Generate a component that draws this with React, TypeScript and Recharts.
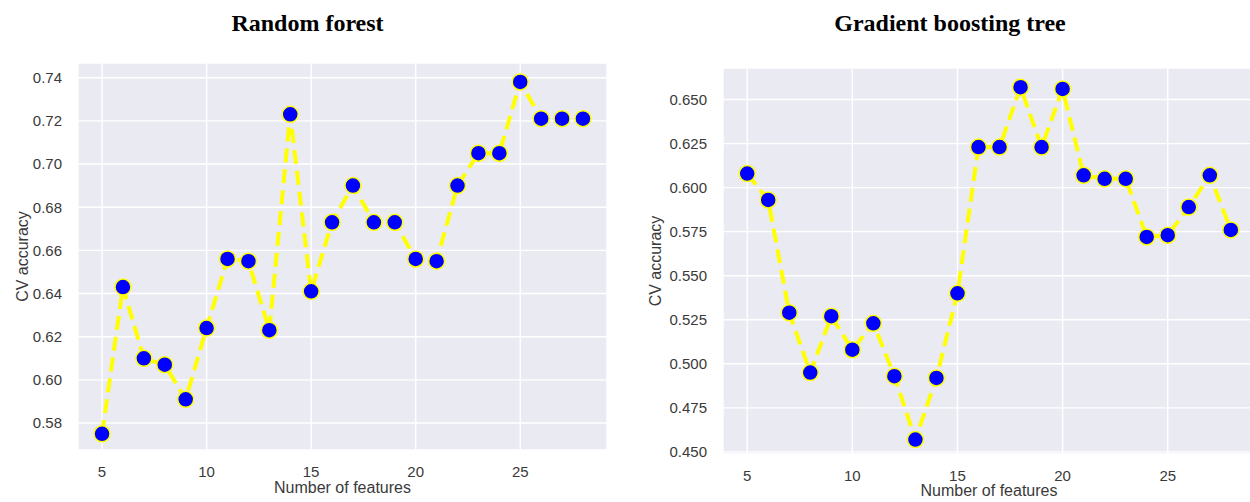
import { CartesianGrid, Line, LineChart, XAxis, YAxis, Label } from "recharts";

const features = [5, 6, 7, 8, 9, 10, 11, 12, 13, 14, 15, 16, 17, 18, 19, 20, 21, 22, 23, 24, 25, 26, 27, 28];

const rfAccuracy = [
  0.575, 0.643, 0.61, 0.607, 0.591, 0.624, 0.656, 0.655, 0.623, 0.723, 0.641, 0.673,
  0.69, 0.673, 0.673, 0.656, 0.655, 0.69, 0.705, 0.705, 0.738, 0.721, 0.721, 0.721,
];

const gbtAccuracy = [
  0.608, 0.593, 0.529, 0.495, 0.527, 0.508, 0.523, 0.493, 0.457, 0.492, 0.54, 0.623,
  0.623, 0.657, 0.623, 0.656, 0.607, 0.605, 0.605, 0.572, 0.573, 0.589, 0.607, 0.576,
];

const xTicks = [5, 10, 15, 20, 25];
const rfTicks = [0.58, 0.6, 0.62, 0.64, 0.66, 0.68, 0.7, 0.72, 0.74];
const gbtTicks = [0.45, 0.475, 0.5, 0.525, 0.55, 0.575, 0.6, 0.625, 0.65];

const SANS = "'Liberation Sans', Arial, sans-serif";
const SERIF = "'Liberation Serif', 'Times New Roman', serif";
const TEXT = "#3a3a3a";

const rfData = features.map((n, i) => ({ n, acc: rfAccuracy[i] }));
const gbtData = features.map((n, i) => ({ n, acc: gbtAccuracy[i] }));

type PanelProps = {
  data: { n: number; acc: number }[];
  yDomain: [number, number];
  yTicks: number[];
  digits: number;
  width: number;
  margin: { top: number; right: number; bottom: number; left: number };
  yAxisWidth: number;
  xLabelOffset: number;
  yLabelOffset: number;
};

const Panel = ({ data, yDomain, yTicks, digits, width, margin, yAxisWidth, xLabelOffset, yLabelOffset }: PanelProps) => (
  <LineChart width={width} height={502} data={data} margin={margin}>
    <CartesianGrid fill="#eaeaf2" stroke="#ffffff" strokeWidth={1.4} />
    <XAxis
      dataKey="n"
      type="number"
      domain={[3.85, 29.15]}
      ticks={xTicks}
      allowDataOverflow
      axisLine={false}
      tickLine={false}
      tickSize={0}
      tickMargin={16}
      height={30}
      tick={{ fill: TEXT, fontSize: 15, fontFamily: SANS }}
    >
      <Label
        value="Number of features"
        position="bottom"
        offset={xLabelOffset}
        style={{ fill: TEXT, fontSize: 16, fontFamily: SANS }}
      />
    </XAxis>
    <YAxis
      type="number"
      domain={yDomain}
      ticks={yTicks}
      allowDataOverflow
      axisLine={false}
      tickLine={false}
      tickSize={0}
      tickMargin={16}
      width={yAxisWidth}
      tickFormatter={(v: number) => v.toFixed(digits)}
      tick={{ fill: TEXT, fontSize: 15, fontFamily: SANS }}
    >
      <Label
        value="CV accuracy"
        angle={-90}
        position="left"
        offset={yLabelOffset}
        style={{ fill: TEXT, fontSize: 16, fontFamily: SANS, textAnchor: "middle" }}
      />
    </YAxis>
    <Line
      type="linear"
      dataKey="acc"
      stroke="#ffff00"
      strokeWidth={4}
      strokeDasharray="14 7"
      isAnimationActive={false}
      dot={{ r: 8, fill: "#0000ff", stroke: "#ffff00", strokeWidth: 1.5, strokeDasharray: "0" }}
      activeDot={false}
    />
  </LineChart>
);

const App = () => {
  return (
    <div
      style={{
        position: "absolute",
        left: 0,
        top: 0,
        width: 1250,
        height: 502,
        overflow: "hidden",
        background: "#ffffff",
      }}
    >
      <div
        style={{
          position: "absolute",
          left: 0,
          width: 615,
          top: 10,
          textAlign: "center",
          fontFamily: SERIF,
          fontWeight: "bold",
          fontSize: 24,
          color: "#000",
        }}
      >
        Random forest
      </div>
      <div
        style={{
          position: "absolute",
          left: 650,
          width: 600,
          top: 10,
          textAlign: "center",
          fontFamily: SERIF,
          fontWeight: "bold",
          fontSize: 24,
          color: "#000",
        }}
      >
        Gradient boosting tree
      </div>
      <div style={{ position: "absolute", left: 0, top: 0 }}>
        <Panel
          data={rfData}
          yDomain={[0.5675, 0.7468]}
          yTicks={rfTicks}
          digits={2}
          width={620}
          margin={{ top: 63, right: 13, bottom: 22, left: 18 }}
          yAxisWidth={60}
          xLabelOffset={2}
          yLabelOffset={-4}
        />
      </div>
      <div style={{ position: "absolute", left: 620, top: 0 }}>
        <Panel
          data={gbtData}
          yDomain={[0.4488, 0.6679]}
          yTicks={gbtTicks}
          digits={3}
          width={640}
          margin={{ top: 68, right: 5, bottom: 18, left: 28 }}
          yAxisWidth={75}
          xLabelOffset={1}
          yLabelOffset={-7}
        />
      </div>
    </div>
  );
};

export default App;
